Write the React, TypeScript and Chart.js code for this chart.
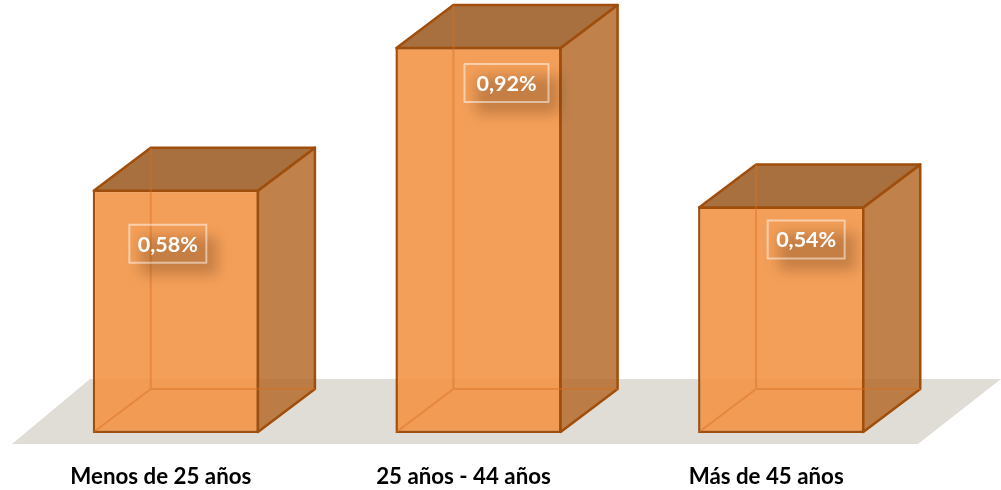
import React, { useEffect, useRef } from "react";
import { Chart, registerables } from "chart.js";

Chart.register(...registerables);

const categories = ["Menos de 25 años", "25 años - 44 años", "Más de 45 años"];
const values = [0.58, 0.92, 0.54];
const valueLabels = ["0,58%", "0,92%", "0,54%"];

const DEPTH_X = 57;
const DEPTH_Y = -43;
const LABEL_SHIFT = [
  { dx: -8, dy: 35, w: 77 },
  { dx: 28, dy: 17, w: 84 },
  { dx: 25, dy: 14, w: 77 },
];

const EDGE = "#a04e0c";
const FONT = "Lato, Carlito, 'Open Sans', sans-serif";

function poly(ctx: CanvasRenderingContext2D, pts: number[][], fill?: string, stroke?: string, lw = 2.5) {
  ctx.beginPath();
  pts.forEach((p, i) => (i ? ctx.lineTo(p[0], p[1]) : ctx.moveTo(p[0], p[1])));
  ctx.closePath();
  if (fill) {
    ctx.fillStyle = fill;
    ctx.fill();
  }
  if (stroke) {
    ctx.strokeStyle = stroke;
    ctx.lineWidth = lw;
    ctx.lineJoin = "round";
    ctx.stroke();
  }
}

const box3d = {
  id: "box3d",
  beforeDatasetsDraw(chart: any) {
    const { ctx, chartArea } = chart;
    const b = chartArea.bottom;
    ctx.save();
    poly(ctx, [
      [12, b + 11],
      [918, b + 11],
      [1001, b - 54],
      [90, b - 54],
    ], "#e0ddd6");
    ctx.restore();
  },
  afterDatasetsDraw(chart: any) {
    const { ctx } = chart;
    const meta = chart.getDatasetMeta(0);
    ctx.save();
    meta.data.forEach((bar: any, i: number) => {
      const l = bar.x - bar.width / 2 + 1;
      const r = bar.x + bar.width / 2 - 1;
      const t = bar.y + 1;
      const bt = bar.base - 1;
      // right face
      poly(ctx, [
        [r, t],
        [r + DEPTH_X, t + DEPTH_Y],
        [r + DEPTH_X, bt + DEPTH_Y],
        [r, bt],
      ], "rgba(181,107,43,0.85)", EDGE);
      // top face
      poly(ctx, [
        [l, t],
        [l + DEPTH_X, t + DEPTH_Y],
        [r + DEPTH_X, t + DEPTH_Y],
        [r, t],
      ], "rgba(158,97,42,0.9)", EDGE);
      // hidden edges, seen through the box
      ctx.strokeStyle = "rgba(215,110,30,0.45)";
      ctx.lineWidth = 2;
      ctx.beginPath();
      ctx.moveTo(l + DEPTH_X, t + DEPTH_Y);
      ctx.lineTo(l + DEPTH_X, bt + DEPTH_Y);
      ctx.lineTo(r + DEPTH_X, bt + DEPTH_Y);
      ctx.moveTo(l + DEPTH_X, bt + DEPTH_Y);
      ctx.lineTo(l, bt);
      ctx.stroke();
      // value label
      const s = LABEL_SHIFT[i];
      const cx = bar.x + s.dx;
      const top = bar.y + s.dy;
      const h = 38;
      ctx.save();
      ctx.shadowColor = "rgba(90,50,20,0.3)";
      ctx.shadowBlur = 14;
      ctx.shadowOffsetX = 3000 + 11;
      ctx.shadowOffsetY = 12;
      ctx.fillStyle = "#000";
      ctx.fillRect(cx - s.w / 2 - 3000, top, s.w, h);
      ctx.restore();
      ctx.strokeStyle = "rgba(255,255,255,0.5)";
      ctx.lineWidth = 2;
      ctx.strokeRect(cx - s.w / 2, top, s.w, h);
      ctx.fillStyle = "#ffffff";
      ctx.font = `bold 21.5px ${FONT}`;
      ctx.textAlign = "center";
      ctx.textBaseline = "middle";
      ctx.fillText(valueLabels[i], cx, top + h / 2 + 1);
    });
    ctx.restore();
  },
};

export default function App() {
  const ref = useRef<HTMLCanvasElement>(null);
  useEffect(() => {
    const chart = new Chart(ref.current!, {
      type: "bar",
      data: {
        labels: categories,
        datasets: [
          {
            data: values,
            backgroundColor: "rgba(243,146,66,0.88)",
            borderColor: EDGE,
            borderWidth: 2.5,
            borderSkipped: false,
            categoryPercentage: 1,
            barPercentage: 0.549,
          },
        ],
      },
      options: {
        responsive: false,
        animation: false,
        devicePixelRatio: 1,
        layout: { padding: { left: 24.5, right: 68.5, top: 0, bottom: 0 } },
        plugins: { legend: { display: false }, tooltip: { enabled: false } },
        scales: {
          x: {
            grid: { display: false, drawTicks: false },
            border: { display: false },
            afterFit: (s: any) => {
              s.height = 57;
            },
            ticks: {
              color: "#000000",
              padding: 30,
              labelOffset: -15,
              maxRotation: 0,
              font: { family: FONT, size: 22.3, weight: "bold" },
            },
          },
          y: { display: false, min: 0, max: 1.032 },
        },
      },
      plugins: [box3d],
    } as any);
    return () => chart.destroy();
  }, []);
  return (
    <canvas
      ref={ref}
      width={1001}
      height={490}
      style={{ position: "absolute", left: 0, top: 0, display: "block" }}
    />
  );
}
